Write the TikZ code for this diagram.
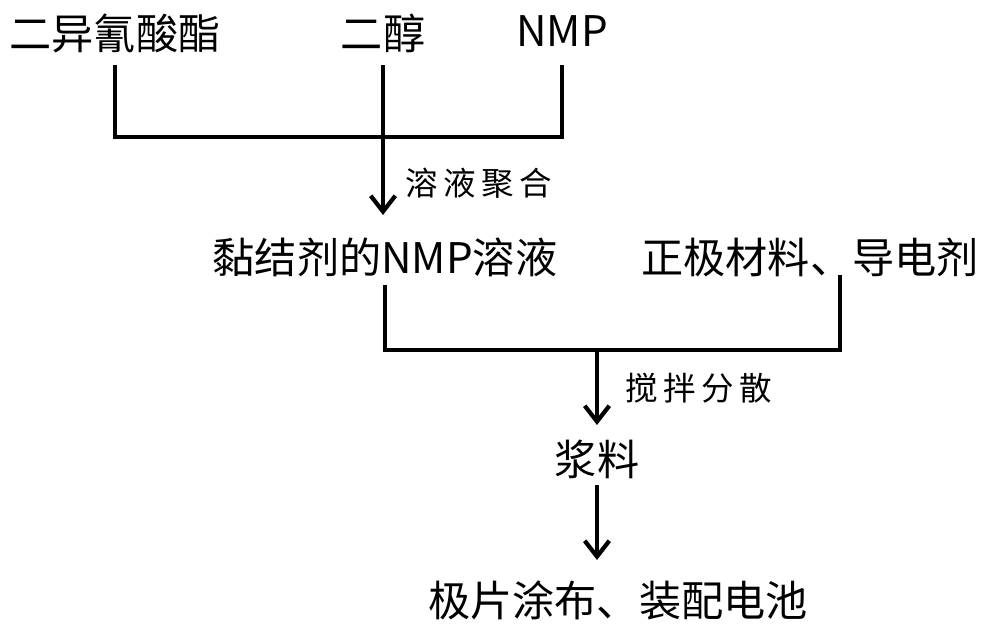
\documentclass[tikz,border=0pt]{standalone}
\usepackage{fontspec}
\setmainfont{Noto Sans CJK SC}
\usetikzlibrary{arrows.meta}
\begin{document}
\begin{tikzpicture}[x=0.02cm,y=-0.02cm,
  lbl/.style={font=\fontsize{24}{28}\selectfont,inner sep=0},
  sm/.style={font=\fontsize{18.5}{22}\selectfont,inner sep=0},
  ln/.style={line width=2.4pt},
  ar/.style={ln,-{Straight Barb[length=9pt,width=14pt,line width=2.4pt]}}]
\useasboundingbox (0,0) rectangle (1000,626);
\node[lbl] (a) at (115,33) {二异氰酸酯};
\node[lbl] (b) at (383,33) {二醇};
\node[lbl] (c) at (562,31) {NMP};
\coordinate (j1) at (383,137);
\draw[ln] (115,65) |- (j1);
\draw[ln] (562,65) |- (j1);
\draw[ar] (383,65) -- (383,215);
\node[sm,anchor=west] (s1) at (405,183) {溶\,液\,聚\,合};
\node[lbl] (d) at (385,257) {黏结剂的NMP溶液};
\node[lbl] (e) at (810,257) {正极材料、导电剂};
\coordinate (j2) at (597,350);
\draw[ln] (385,285) |- (j2);
\draw[ln] (840,275) |- (j2);
\draw[ar] (j2) -- (597,425);
\node[sm,anchor=west] (s2) at (625,388) {搅\,拌\,分\,散};
\node[lbl] (f) at (597,459) {浆料};
\draw[ar] (597,485) -- (597,560);
\node[lbl] (g) at (618,600) {极片涂布、装配电池};
\end{tikzpicture}
\end{document}
